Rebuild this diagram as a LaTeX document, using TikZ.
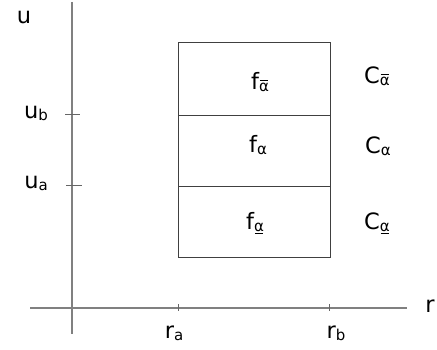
\documentclass[tikz,border=0pt]{standalone}
\usepackage{fontspec}
\setmainfont{DejaVu Sans}
\newcommand{\subf}{\fontsize{15}{15}\selectfont}
\newcommand{\sbx}[1]{\raisebox{-2pt}{\subf #1}}
\newcommand{\ovl}{\raisebox{-2pt}{\subf\ooalign{α\cr\hidewidth\rule[0.72em]{0.55em}{0.7pt}\hidewidth\cr}}}
\newcommand{\unl}{\raisebox{-2pt}{\subf\ooalign{α\cr\hidewidth\rule[-0.16em]{0.55em}{0.7pt}\hidewidth\cr}}}
\newcommand{\pla}{\raisebox{-2pt}{\subf α}}
\begin{document}
\begin{tikzpicture}[x=1pt,y=-1pt,
  axis/.style={draw=black!50,line width=1.2pt},
  tick/.style={draw=black!60,line width=0.8pt},
  box/.style={draw=black!75,line width=0.8pt},
  lbl/.style={font=\fontsize{22.5}{23}\selectfont,inner sep=0pt}]
\useasboundingbox (0,0) rectangle (437,350);
% axes
\coordinate (vtop) at (72,2);
\coordinate (vbot) at (72,334);
\coordinate (hl) at (30,308);
\coordinate (hr) at (407,308);
\draw[axis] (vtop) -- (vbot);
\draw[axis] (hl) -- (hr);
% ticks
\coordinate (tb1) at (65,114); \coordinate (tb2) at (80,114);
\coordinate (ta1) at (66,185); \coordinate (ta2) at (82,185);
\coordinate (tra1) at (178,304); \coordinate (tra2) at (178,311);
\coordinate (trb1) at (329,304); \coordinate (trb2) at (329,311);
\draw[tick] (tb1) -- (tb2);
\draw[tick] (ta1) -- (ta2);
\draw[tick] (tra1) -- (tra2);
\draw[tick] (trb1) -- (trb2);
% box
\coordinate (bl) at (178,257);
\coordinate (tr) at (330,42);
\coordinate (m1l) at (178,115); \coordinate (m1r) at (330,115);
\coordinate (m2l) at (178,186); \coordinate (m2r) at (330,186);
\draw[box] (bl) rectangle (tr);
\draw[box] (m1l) -- (m1r);
\draw[box] (m2l) -- (m2r);
% labels
\node[lbl] (u) at (24,17) {u};
\node[lbl] (ub) at (36,113) {u\sbx{b}};
\node[lbl] (ua) at (36,183) {u\sbx{a}};
\node[lbl] (r) at (430,306) {r};
\node[lbl] (ra) at (174,333) {r\sbx{a}};
\node[lbl] (rb) at (336,333) {r\sbx{b}};
\node[lbl] (f1) at (260,82) {f\ovl};
\node[lbl] (f2) at (258,145) {f\pla};
\node[lbl] (f3) at (255,223) {f\unl};
\node[lbl] (c1) at (377,76) {C\ovl};
\node[lbl] (c2) at (378,146) {C\pla};
\node[lbl] (c3) at (377,223) {C\unl};
\end{tikzpicture}
\end{document}
